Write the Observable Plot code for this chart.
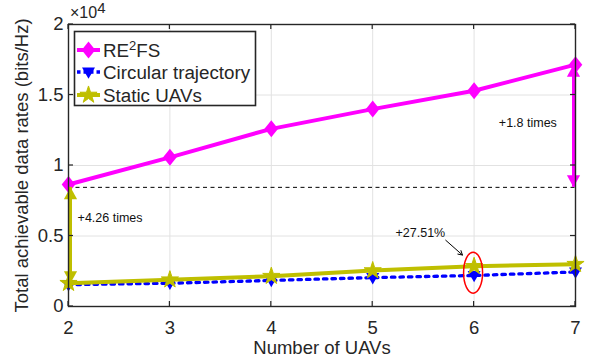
<!DOCTYPE html>
<html><head><meta charset="utf-8">
<script src="https://cdn.jsdelivr.net/npm/d3@7"></script>
<script src="https://cdn.jsdelivr.net/npm/@observablehq/plot@0.6"></script>
<style>
body{margin:0;background:#fff}
svg{font-family:"Liberation Sans",Arial,Helvetica,sans-serif}
</style>
</head><body><div id="chart"></div>
<script>
// ---- data ----
const uavs = [2, 3, 4, 5, 6, 7];
const re2fs = [8650, 10580, 12600, 14000, 15300, 17150];
const circular = [1550, 1650, 1850, 2050, 2200, 2450];
const staticUAVs = [1650, 1900, 2150, 2550, 2850, 3000];
const xTicks = [2, 3, 4, 5, 6, 7];
const yTicks = [0, 5000, 10000, 15000, 20000];
const yTickLabels = ["0", "0.5", "1", "1.5", "2"];
const baseline = 8450;
const seriesNames = ["RE2FS", "Circular trajectory", "Static UAVs"];
const seriesColors = ["#ff00ff", "#0000ff", "#bfbf00"];
const noteTexts = ["+4.26 times", "+1.8 times", "+27.51%"];
const noteX = [2.41, 6.53, 5.47];
const noteY = [6250, 13000, 5200];
const arrowFrom = [5.72, 4700];
const arrowTo = [5.885, 3650];
const ellipseAt = [5.99, 2400];

const tbl = vals => uavs.map((x, i) => ({x, y: vals[i]}));
const notes = noteTexts.map((t, i) => ({x: noteX[i], y: noteY[i], t}));

// ---- custom symbols ----
const diamondSym = {draw(ctx, size) {const r = Math.sqrt(size / Math.PI), w = r * 0.8;
  ctx.moveTo(0, -r); ctx.lineTo(w, 0); ctx.lineTo(0, r); ctx.lineTo(-w, 0); ctx.closePath();}};
const triDownSym = {draw(ctx, size) {const r = Math.sqrt(size / Math.PI);
  ctx.moveTo(-r, -r * 0.7); ctx.lineTo(r, -r * 0.7); ctx.lineTo(0, r * 1.05); ctx.closePath();}};
const headUp = {draw(ctx, size) {const r = Math.sqrt(size / Math.PI);
  ctx.moveTo(0, 0); ctx.lineTo(r * 0.55, r); ctx.lineTo(-r * 0.55, r); ctx.closePath();}};
const headDown = {draw(ctx, size) {const r = Math.sqrt(size / Math.PI);
  ctx.moveTo(0, 0); ctx.lineTo(r * 0.55, -r); ctx.lineTo(-r * 0.55, -r); ctx.closePath();}};
const ellipseSym = {draw(ctx, size) {const rx = 9.5, ry = 20.5, k = 0.5523;
  ctx.moveTo(rx, 0);
  ctx.bezierCurveTo(rx, ry * k, rx * k, ry, 0, ry);
  ctx.bezierCurveTo(-rx * k, ry, -rx, ry * k, -rx, 0);
  ctx.bezierCurveTo(-rx, -ry * k, -rx * k, -ry, 0, -ry);
  ctx.bezierCurveTo(rx * k, -ry, rx, -ry * k, rx, 0);
  ctx.closePath();}};

const txt = "#262626";
const first = uavs[0], last = uavs[uavs.length - 1];

const plot = Plot.plot({
  width: 601, height: 362,
  marginLeft: 68, marginRight: 26, marginTop: 24, marginBottom: 56,
  style: {fontFamily: '"Liberation Sans",Arial,sans-serif', fontSize: "18.5px", color: txt, background: "#fff"},
  x: {domain: [first, last]},
  y: {domain: [yTicks[0], yTicks[yTicks.length - 1]]},
  marks: [
    Plot.gridX(xTicks, {stroke: "#e2e2e2", strokeOpacity: 1}),
    Plot.gridY(yTicks, {stroke: "#e2e2e2", strokeOpacity: 1}),
    Plot.axisX({ticks: xTicks, tickSize: 0, tickPadding: 14, fontSize: 18.5, label: "Number of UAVs",
      labelAnchor: "center", labelArrow: "none", labelOffset: 47, tickFormat: d => String(d)}),
    Plot.axisY({ticks: yTicks, tickSize: 0, tickPadding: 5, fontSize: 18.5,
      tickFormat: d => yTickLabels[yTicks.indexOf(d)],
      label: "Total achievable data rates (bits/Hz)", labelAnchor: "center", labelArrow: "none", labelOffset: 54}),
    Plot.ruleY([baseline], {x1: first, x2: last, stroke: "#000", strokeWidth: 1, strokeDasharray: "4,3.5"}),
    // RE2FS
    Plot.line(tbl(re2fs), {x: "x", y: "y", stroke: seriesColors[0], strokeWidth: 4}),
    Plot.dot(tbl(re2fs), {x: "x", y: "y", symbol: diamondSym, r: 8.5, fill: seriesColors[0], stroke: "none"}),
    // circular
    Plot.line(tbl(circular), {x: "x", y: "y", stroke: seriesColors[1], strokeWidth: 3.3, strokeDasharray: "3.5,5"}),
    Plot.dot(tbl(circular), {x: "x", y: "y", symbol: triDownSym, r: 6.5, fill: seriesColors[1], stroke: "none"}),
    // static
    Plot.line(tbl(staticUAVs), {x: "x", y: "y", stroke: seriesColors[2], strokeWidth: 4}),
    Plot.dot(tbl(staticUAVs), {x: "x", y: "y", symbol: "star", r: 5.4, fill: seriesColors[2], stroke: seriesColors[2], strokeWidth: 1}),
    // magenta double arrow at last x
    Plot.ruleX([last], {y1: baseline, y2: re2fs[re2fs.length - 1], stroke: seriesColors[0], strokeWidth: 3, dx: -2}),
    Plot.dot([{x: last, y: re2fs[re2fs.length - 1]}], {x: "x", y: "y", symbol: headUp, r: 12, fill: seriesColors[0], dx: -2}),
    Plot.dot([{x: last, y: baseline}], {x: "x", y: "y", symbol: headDown, r: 12, fill: seriesColors[0], dx: -2}),
    // olive double arrow at first x
    Plot.ruleX([first], {y1: staticUAVs[0], y2: baseline, stroke: seriesColors[2], strokeWidth: 3, dx: 2}),
    Plot.dot([{x: first, y: baseline}], {x: "x", y: "y", symbol: headUp, r: 12, fill: seriesColors[2], dx: 2}),
    Plot.dot([{x: first, y: staticUAVs[0]}], {x: "x", y: "y", symbol: headDown, r: 12, fill: seriesColors[2], dx: 2}),
    // callout
    Plot.arrow([0], {x1: arrowFrom[0], y1: arrowFrom[1], x2: arrowTo[0], y2: arrowTo[1], stroke: "#000", strokeWidth: 1, headLength: 7}),
    Plot.dot([{x: ellipseAt[0], y: ellipseAt[1]}], {x: "x", y: "y", symbol: ellipseSym, r: 5, fill: "none", stroke: "#ff0000", strokeWidth: 1.5}),
    Plot.text(notes, {x: "x", y: "y", text: "t", fontSize: 12.5, fill: "#111", textAnchor: "middle"}),
    Plot.frame({stroke: txt, strokeWidth: 1.4})
  ]
});

document.getElementById("chart").appendChild(plot);

// inner ticks and overlays using the plot's scales
const sx = plot.scale("x"), sy = plot.scale("y");
const svg = d3.select(plot);
const tk = svg.append("g").attr("stroke", txt).attr("stroke-width", 1.2);
const y0 = sy.apply(yTicks[0]), y1 = sy.apply(yTicks[yTicks.length - 1]);
const x0 = sx.apply(first), x1 = sx.apply(last);
xTicks.forEach(t => {
  const px = sx.apply(t);
  tk.append("line").attr("x1", px).attr("x2", px).attr("y1", y0).attr("y2", y0 - 5);
  tk.append("line").attr("x1", px).attr("x2", px).attr("y1", y1).attr("y2", y1 + 5);
});
yTicks.forEach(t => {
  const py = sy.apply(t);
  tk.append("line").attr("x1", x0).attr("x2", x0 + 5).attr("y1", py).attr("y2", py);
  tk.append("line").attr("x1", x1).attr("x2", x1 - 5).attr("y1", py).attr("y2", py);
});

// exponent
const ex = svg.append("text").attr("x", x0 + 2).attr("y", y1 - 6).attr("fill", txt)
  .attr("text-anchor", "start").style("font-size", "16px");
ex.append("tspan").text("×10");
ex.append("tspan").attr("dy", -5).style("font-size", "15px").text("4");

// legend
const lg = svg.append("g").attr("text-anchor", "start");
lg.append("rect").attr("x", 74.5).attr("y", 31.5).attr("width", 181).attr("height", 74)
  .attr("fill", "#fff").attr("stroke", txt).attr("stroke-width", 1.6);
const rowsY = [50, 72, 95];
const sym = [diamondSym, triDownSym, d3.symbolStar];
const symSize = [Math.PI * 8.5 * 8.5, Math.PI * 6.5 * 6.5, Math.PI * 5.4 * 5.4];
seriesNames.forEach((name, i) => {
  const y = rowsY[i];
  lg.append("line").attr("x1", 77).attr("x2", 100).attr("y1", y).attr("y2", y)
    .attr("stroke", seriesColors[i]).attr("stroke-width", i === 1 ? 3.3 : 4)
    .attr("stroke-dasharray", i === 1 ? "3.5,3" : null);
  lg.append("path").attr("transform", `translate(88.5,${y})`)
    .attr("d", d3.symbol(sym[i], symSize[i])()).attr("fill", seriesColors[i])
    .attr("stroke", i === 2 ? seriesColors[i] : "none");
  const t = lg.append("text").attr("x", 103).attr("y", y + 6.5).attr("fill", txt)
    .attr("text-anchor", "start").style("font-size", "18.8px");
  if (name === "RE2FS") {
    t.append("tspan").text("RE");
    t.append("tspan").attr("dy", -7).style("font-size", "13px").text("2");
    t.append("tspan").attr("dy", 7).text("FS");
  } else t.text(name);
});
</script>
</body></html>
